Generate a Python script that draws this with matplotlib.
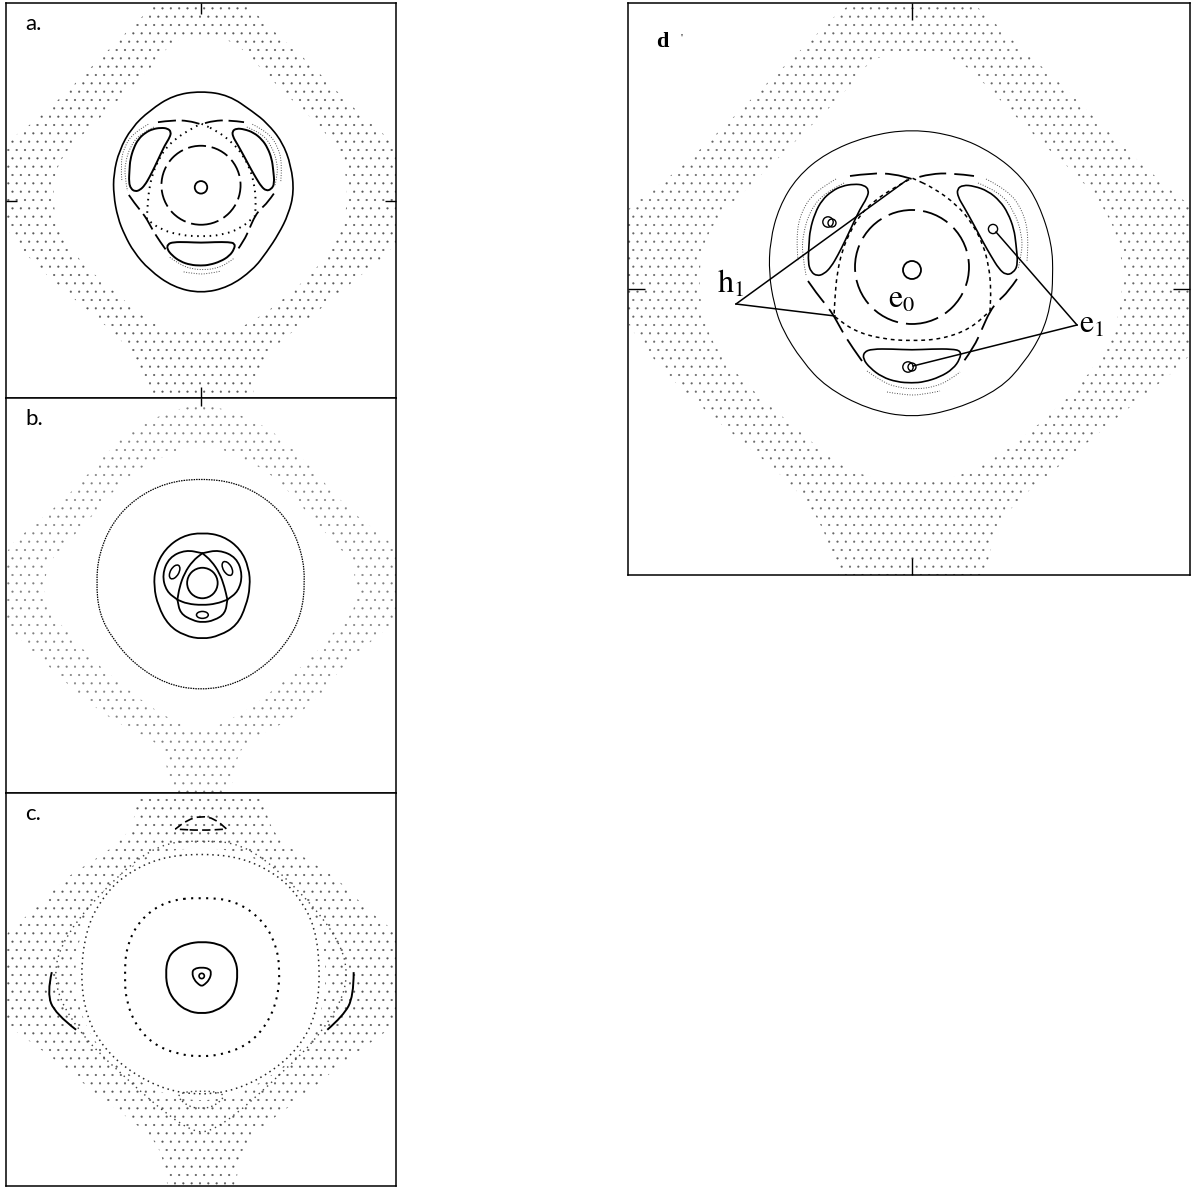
import numpy as np
import matplotlib
matplotlib.use("Agg")
import matplotlib.pyplot as plt
from matplotlib.path import Path
from matplotlib.patches import PathPatch, Circle, Ellipse

plt.rcParams['mathtext.fontset'] = 'stix'
plt.rcParams['hatch.linewidth'] = 0.3

# ---------------- data: panels a and d show the same section (d enlarged) ----------------
AD_SEA_OUTER = [(0, 305), (60, 290), (100, 248), (150, 205), (195, 158), (245, 110), (295, 70), (305, 0),
                (290, -60), (215, -120), (150, -175), (100, -215), (80, -250), (70, -305), (0, -310),
                (-70, -305), (-85, -245), (-110, -205), (-155, -165), (-215, -115), (-265, -65), (-305, 0),
                (-295, 75), (-246, 108), (-193, 157), (-146, 205), (-102, 248), (-60, 290)]
AD_SEA_INNER = [(0, 238), (45, 232), (78, 200), (125, 150), (175, 105), (205, 60), (212, 10), (205, -40),
                (175, -90), (125, -138), (75, -175), (40, -190), (0, -188), (-40, -190), (-75, -175),
                (-115, -140), (-162, -100), (-205, -50), (-215, 10), (-205, 62), (-152, 113), (-104, 160),
                (-62, 202), (-40, 232)]
A_TORUS = [(0, 158), (-40, 152), (-74, 130), (-100, 105), (-118, 72), (-126, 38), (-126, 8), (-120, -25),
           (-110, -50), (-97, -74), (-75, -100), (-40, -125), (0, -134), (40, -125), (75, -100), (95, -74),
           (112, -48), (126, -20), (134, 12), (130, 50), (117, 85), (95, 112), (75, 128), (40, 152)]
D_TORUS = [(0, 160), (-45, 153), (-86, 136), (-115, 112), (-133, 82), (-142, 48), (-143, 15), (-138, -15),
           (-130, -40), (-110, -72), (-86, -98), (-45, -120), (0, -129), (45, -120), (88, -100), (112, -74),
           (130, -45), (139, -15), (141, 12), (140, 45), (127, 85), (110, 112), (81, 136), (45, 153)]
AD_E0 = (0, 19)
AD_E0_R = 9
AD_DASH_CIRCLE = (0, 22)
AD_DASH_R = 57
AD_INNER_SEP = [(0, 111), (0, 111), (-20, 100), (-38, 88), (-52, 74), (-62, 57), (-70, 38), (-75, 15),
                (-77, -8), (-78, -27), (-78, -27), (-58, -42), (-30, -50), (0, -52), (30, -50), (58, -40),
                (78, -22), (78, -22), (79, 0), (77, 22), (71, 45), (60, 66), (45, 84), (22, 101)]
AD_ISLAND_UL = [(-104, 26), (-103, 45), (-102, 59), (-97, 76), (-90, 89), (-80, 98), (-70, 103), (-58, 105),
                (-48, 104), (-43, 99), (-45, 91), (-52, 80), (-60, 63), (-67, 48), (-74, 34), (-81, 22),
                (-88, 15), (-95, 13), (-101, 17)]
AD_ISLAND_UR = [(106, 24), (104, 45), (102, 60), (96, 76), (88, 88), (76, 98), (62, 103), (51, 104),
                (45, 100), (46, 92), (52, 82), (62, 64), (71, 47), (79, 33), (87, 20), (94, 14), (101, 16)]
AD_ISLAND_B = [(-48, -63), (-40, -60), (-20, -60), (0, -61), (20, -60), (40, -60), (49, -62), (48, -70),
               (41, -80), (28, -88), (12, -93), (0, -94), (-15, -93), (-30, -88), (-42, -79), (-49, -70)]
AD_CHAINS = [[(-68, 106), (-88, 96), (-102, 78), (-109, 55), (-110, 35), (-106, 14)],
             [(-76, 110), (-97, 98), (-111, 77), (-116, 52), (-114, 28)],
             [(66, 106), (88, 97), (102, 78), (110, 55), (110, 35), (106, 20)],
             [(74, 110), (96, 99), (111, 78), (117, 52), (115, 28)],
             [(-45, -82), (-30, -93), (-12, -99), (5, -100), (22, -98), (38, -91), (48, -83)],
             [(-25, -103), (-8, -106), (10, -106), (28, -102)]]
AD_OUTER_SEP = [[(-62, 113), (-40, 116), (-18, 115), (0, 110), (0, 110), (18, 115), (40, 116), (62, 113)],
                [(-104, 8), (-95, -5), (-85, -17), (-78, -27), (-70, -42), (-60, -58), (-50, -72)],
                [(105, 10), (96, -3), (86, -12), (78, -22), (70, -40), (62, -58), (52, -72)]]
D_E1_CIRCLES = [(-84, 67, 5.2), (-80, 66, 4.0), (81, 60, 4.6), (-4, -78, 5.2), (0, -78, 4.0)]
H1_VERTEX = (-176, -15)
H1_TARGETS = [(-5, 109), (-77, -27)]
E1_VERTEX = (165, -36)
E1_TARGETS = [(84, 57), (1, -77)]

# ---------------- data: panel b ----------------
B_SEA_OUTER = [(0, 278), (55, 262), (100, 240), (140, 205), (180, 160), (220, 118), (255, 92), (290, 60),
               (290, -30), (250, -62), (205, -100), (168, -150), (115, -188), (52, -215), (45, -295),
               (-45, -295), (-52, -215), (-115, -188), (-168, -150), (-222, -100), (-262, -62), (-290, -30),
               (-290, 62), (-230, 110), (-180, 155), (-142, 200), (-100, 240), (-55, 262)]
B_SEA_INNER = [(0, 222), (45, 205), (92, 182), (128, 150), (162, 108), (198, 72), (222, 40), (225, -20),
               (195, -48), (158, -92), (112, -130), (68, -165), (30, -185), (0, -200), (-30, -185),
               (-68, -165), (-112, -130), (-158, -92), (-195, -48), (-225, -20), (-225, 40), (-198, 72),
               (-162, 108), (-128, 150), (-92, 182), (-45, 205)]
B_TORUS = [(0, 169), (50, 163), (95, 140), (128, 105), (146, 60), (150, 19), (145, -25), (128, -62),
           (95, -100), (50, -128), (0, -137), (-50, -128), (-95, -100), (-128, -62), (-147, -25),
           (-151, 19), (-147, 60), (-128, 105), (-95, 140), (-50, 163)]
B_ENVELOPE = [(2, 91), (32, 86), (57, 67), (69, 40), (71, 13), (65, -15), (52, -43), (27, -58), (2, -63),
              (-24, -58), (-47, -43), (-62, -15), (-68, 13), (-66, 40), (-52, 67), (-27, 86)]
B_E0 = (2, 18)
B_E0_R = 22
B_SEP_INNER = [(2, 61), (2, 61), (-12, 50), (-24, 32), (-31, 12), (-34, -6), (-34, -6), (-20, -12),
               (2, -14), (22, -12), (38, -6), (38, -6), (34, 12), (27, 32), (15, 50)]
B_SEP_OUTER = [(2, 61), (2, 61), (-22, 66), (-46, 55), (-56, 30), (-50, 6), (-34, -6), (-34, -6),
               (-30, -26), (-12, -36), (2, -39), (19, -36), (35, -26), (38, -6), (38, -6), (54, 6),
               (60, 30), (51, 55), (26, 66)]
B_ISLANDS = [(-38, 34, 22, 12, 60), (38, 39, 22, 12, 120), (2, -28, 17, 10, 0)]

# ---------------- data: panel c ----------------
C_SEA_OUTER = [(0, 300), (90, 292), (98, 228), (150, 188), (195, 162), (242, 112), (288, 78), (300, 0),
               (288, -45), (242, -78), (196, -112), (150, -152), (100, -188), (55, -228), (50, -300),
               (-50, -300), (-55, -228), (-100, -188), (-150, -152), (-196, -112), (-242, -78), (-288, -45),
               (-300, 0), (-288, 78), (-242, 112), (-195, 162), (-150, 188), (-98, 228), (-90, 292)]
C_SEA_INNER = [(0, 205), (60, 198), (112, 170), (145, 138), (172, 92), (182, 20), (172, -42), (145, -88),
               (102, -125), (52, -152), (0, -162), (-52, -152), (-102, -125), (-145, -88), (-172, -42),
               (-184, 20), (-172, 92), (-145, 138), (-112, 170), (-60, 198)]
C_RING = [(0, 196), (60, 190), (110, 165), (140, 135), (165, 90), (172, 20), (165, -40), (140, -85),
          (100, -120), (50, -145), (0, -152), (-50, -145), (-100, -120), (-140, -85), (-165, -40),
          (-174, 20), (-165, 90), (-140, 135), (-110, 165), (-60, 190)]
C_PETALS = [(0, 215), (60, 210), (120, 165), (198, 78), (215, 10), (178, -58), (120, -118), (22, -205),
            (-20, -205), (-120, -118), (-179, -58), (-215, 10), (-198, 78), (-120, 165), (-60, 210)]
C_MID = [(0, 133), (50, 128), (89, 100), (108, 65), (114, 28), (110, -15), (95, -50), (70, -78), (35, -93),
         (0, -97), (-35, -93), (-70, -78), (-95, -50), (-108, -15), (-110, 18), (-108, 60), (-89, 100),
         (-50, 128)]
C_TORUS = [(1, 69), (25, 66), (40, 57), (50, 42), (53, 23), (50, 0), (40, -18), (22, -31), (1, -35),
           (-20, -31), (-37, -18), (-48, 0), (-51, 23), (-48, 45), (-37, 58), (-20, 66)]
C_TRI = [(1, 32), (12, 30), (15, 24), (12, 14), (5, 7), (1, 5), (-3, 7), (-10, 14), (-13, 24), (-10, 30)]
C_E0 = (1, 19.5)
C_E0_R = 3.8
C_TOP_ISLAND = [(-37, 231), (-37, 231), (-20, 244), (0, 250), (20, 246), (37, 231), (37, 231), (0, 229)]
C_BOTTOM_ISLAND = [(-38, -150), (0, -145), (38, -150), (20, -168), (0, -172), (-20, -168)]
C_SIDE_ISLANDS = [[(-215, 25), (-222, -5), (-210, -35), (-180, -58)],
                  [(220, 25), (220, -10), (205, -38), (182, -58)]]

LABELS = ['a.', 'b.', 'c.', 'd']


def smooth(pts, closed=True):
    p = np.asarray(pts, float)
    n = len(p)
    if closed:
        mids = (p + np.roll(p, -1, axis=0)) / 2
        verts = [mids[-1]]
        codes = [Path.MOVETO]
        for i in range(n):
            verts += [p[i], mids[i]]
            codes += [Path.CURVE3, Path.CURVE3]
    else:
        verts = [p[0]]
        codes = [Path.MOVETO]
        if n == 2:
            verts.append(p[1])
            codes.append(Path.LINETO)
        for i in range(1, n - 1):
            end = p[i + 1] if i == n - 2 else (p[i] + p[i + 1]) / 2
            verts += [p[i], end]
            codes += [Path.CURVE3, Path.CURVE3]
    return Path(verts, codes)


def curve(ax, pts, closed=True, **kw):
    kw.setdefault('color', 'black')
    ax.add_patch(PathPatch(smooth(pts, closed), fill=False, **kw))


def sea(ax, outer, inner, hatch, color='0.3'):
    path = Path.make_compound_path(smooth(outer), smooth(inner[::-1]))
    ax.add_patch(PathPatch(path, facecolor='none', edgecolor=color, lw=0, hatch=hatch))


def frame(ax, xl, yl, ticks, tlen):
    ax.set_xlim(*xl)
    ax.set_ylim(*yl)
    ax.set_xticks([0])
    ax.set_yticks([0])
    ax.tick_params(direction='in', length=tlen, width=1.0, labelbottom=False, labelleft=False,
                   bottom='b' in ticks, top='t' in ticks, left='l' in ticks, right='r' in ticks)
    for s in ax.spines.values():
        s.set_linewidth(1.1)


fig = plt.figure(figsize=(11.91, 11.88), dpi=100)
W, H = 1191, 1188
axA = fig.add_axes([6 / W, 1 - 398 / H, 390 / W, 395 / H])
axB = fig.add_axes([6 / W, 1 - 793 / H, 390 / W, 395 / H])
axC = fig.add_axes([6 / W, 1 - 1186 / H, 390 / W, 393 / H])
axD = fig.add_axes([628 / W, 1 - 575 / H, 562 / W, 572 / H])

frame(axA, (-281, 281), (-285, 285), 'tblr', 8)
frame(axB, (-281, 281), (-285, 285), 't', 6)
frame(axC, (-281, 281), (-283, 283), '', 0)
frame(axD, (-284, 278), (-286, 286), 'tblr', 12)

# ---- panels a and d ----
for ax, big in ((axA, True), (axD, False)):
    sea(ax, AD_SEA_OUTER, AD_SEA_INNER, '..', '0.35' if big else '0.4')
    curve(ax, A_TORUS if big else D_TORUS, lw=1.2 if big else 0.8)
    ax.add_patch(Circle(AD_E0, AD_E0_R, fill=False, lw=1.3, color='black'))
    ax.add_patch(Circle(AD_DASH_CIRCLE, AD_DASH_R, fill=False, lw=1.3, color='black',
                        linestyle=(0, (10, 3.2) if big else (15, 4.5))))
    curve(ax, AD_INNER_SEP, lw=1.4 if big else 1.1,
          linestyle=(0, (0.8, 2.4)) if big else (0, (2.5, 2.5)))
    for isl in (AD_ISLAND_UL, AD_ISLAND_UR, AD_ISLAND_B):
        curve(ax, isl, lw=1.4 if big else 1.2)
    for ch in AD_CHAINS:
        curve(ax, ch, closed=False, lw=0.7, color='0.3', linestyle=(0, (1, 1.6)))
    for seg in AD_OUTER_SEP:
        curve(ax, seg, closed=False, lw=1.3, linestyle=(0, (10, 3.2) if big else (15, 4.5)))

for x, y, r in D_E1_CIRCLES:
    axD.add_patch(Circle((x, y), r, fill=False, lw=1.0, color='black'))
for tx, ty in H1_TARGETS:
    axD.plot([H1_VERTEX[0], tx], [H1_VERTEX[1], ty], color='black', lw=1.1)
for tx, ty in E1_TARGETS:
    axD.plot([E1_VERTEX[0], tx], [E1_VERTEX[1], ty], color='black', lw=1.1)
axD.text(-195, -4, r'$\mathrm{h}_{1}$', fontsize=23, ha='left', va='baseline')
axD.text(-24, -19, r'$\mathrm{e}_{0}$', fontsize=23, ha='left', va='baseline')
axD.text(167, -44, r'$\mathrm{e}_{1}$', fontsize=23, ha='left', va='baseline')

# ---- panel b ----
sea(axB, B_SEA_OUTER, B_SEA_INNER, '..', '0.5')
curve(axB, B_TORUS, lw=0.9, linestyle=(0, (1.2, 0.8)))
curve(axB, B_ENVELOPE, lw=1.3)
axB.add_patch(Circle(B_E0, B_E0_R, fill=False, lw=1.3, color='black'))
curve(axB, B_SEP_INNER, lw=1.3)
curve(axB, B_SEP_OUTER, lw=1.3)
for x, y, w, h, ang in B_ISLANDS:
    axB.add_patch(Ellipse((x, y), w, h, angle=ang, fill=False, lw=1.1, color='black'))

# ---- panel c ----
sea(axC, C_SEA_OUTER, C_SEA_INNER, '..', '0.35')
curve(axC, C_RING, lw=1.1, color='0.15', linestyle=(0, (1, 2.5)))
curve(axC, C_PETALS, lw=1.0, color='0.25', linestyle=(0, (1, 3)))
curve(axC, C_MID, lw=1.5, linestyle=(0, (1, 2.6)))
curve(axC, C_TORUS, lw=1.4)
curve(axC, C_TRI, lw=1.3)
axC.add_patch(Circle(C_E0, C_E0_R, fill=False, lw=1.2, color='black'))
curve(axC, C_TOP_ISLAND, lw=1.2, linestyle=(0, (5, 2.5)))
curve(axC, C_BOTTOM_ISLAND, lw=1.0, color='0.25', linestyle=(0, (1, 2.2)))
for arc in C_SIDE_ISLANDS:
    curve(axC, arc, closed=False, lw=1.4)

# ---- labels ----
for ax, lab in zip((axA, axB, axC), LABELS[:3]):
    ax.text(0.049, 0.932, lab, transform=ax.transAxes, fontsize=16, family='Lato', color='black')
axD.text(0.05, 0.923, LABELS[3], transform=axD.transAxes, fontsize=16,
         family='Liberation Serif', weight='bold')
axD.text(0.093, 0.935, "'", transform=axD.transAxes, fontsize=8, family='Liberation Serif')

fig.savefig('out.png', dpi=100)
